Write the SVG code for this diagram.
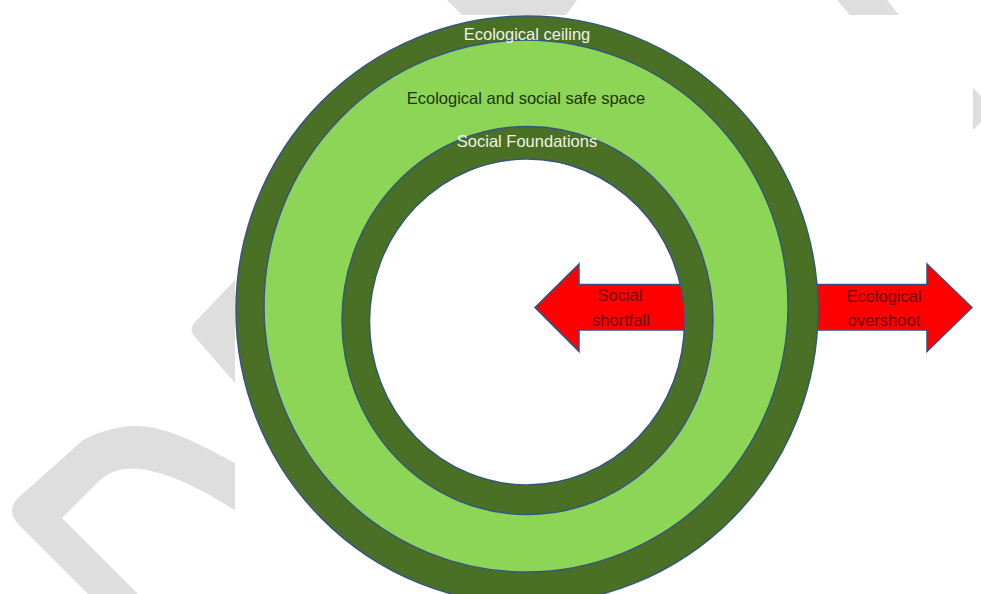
<svg xmlns="http://www.w3.org/2000/svg" width="981" height="594" viewBox="0 0 981 594">
<style>
.wm{fill:#dedede;stroke:none}
.dark{fill:#4a7025;stroke:#35577f;stroke-width:1.5}
.light{fill:#8dd557;stroke:#35577f;stroke-width:1.5}
.arrow{fill:#ff0000;stroke:#3a4f86;stroke-width:1.5}
text{font-family:"Liberation Sans",Arial,sans-serif;font-size:16.5px;text-anchor:middle}
.wt{fill:#eef3e6}
.dt{fill:#1c3312}
.rt{fill:#700000}
</style>
<rect width="981" height="594" fill="#ffffff"/>
<g id="watermark">
<path class="wm" d="M235,280 L195,322 Q188,330 195,337 L235,383 Z"/>
<path class="wm" d="M235,463 C205,447 165,424 133,426 C115,427 98,432 83,440 L18,498 Q6,510 18,524 L88,594 L138,594 L62,518 L100,480 C112,470 125,467 140,469 C175,474 205,492 235,510 Z"/>
<polygon class="wm" points="973,88 981,96 981,122 973,130"/>
<polygon class="wm" points="837,0 887,0 899,15 850,15"/>
<polygon class="wm" points="447,0 577,0 566,15 462,15"/>
</g>
<rect x="235" y="15" width="738" height="579" fill="#ffffff"/>
<g id="connectors">
<g id="arrow-overshoot">
<polygon class="arrow" points="800,284.5 927,284.5 927,264 972,307.5 927,351.5 927,330 800,330"/>
</g>
</g>
<g id="ecological-ceiling">
<ellipse class="dark" cx="527" cy="310" rx="291" ry="294"/>
</g>
<g id="safe-space">
<ellipse class="light" cx="526" cy="306" rx="262" ry="266"/>
</g>
<g id="inner-space">
<ellipse cx="527" cy="322" rx="157.5" ry="163" fill="#ffffff"/>
</g>
<g id="arrow-shortfall">
<polygon class="arrow" points="535,307.5 579,264 579,284.5 700,284.5 700,330 579,330 579,351.5"/>
</g>
<g id="social-foundations">
<path class="dark" fill-rule="evenodd" d="M342,320.5 a185.5,194 0 1,0 371,0 a185.5,194 0 1,0 -371,0 Z M369.5,322 a157.5,163 0 1,0 315,0 a157.5,163 0 1,0 -315,0 Z"/>
</g>
<g id="labels">
<text class="wt" x="527" y="40">Ecological ceiling</text>
<text class="dt" x="526" y="104">Ecological and social safe space</text>
<text class="wt" x="527" y="146.5">Social Foundations</text>
<text class="rt" x="620" y="301">Social</text>
<text class="rt" x="621" y="326">shortfall</text>
<text class="rt" x="884" y="302">Ecological</text>
<text class="rt" x="884" y="326">overshoot</text>
</g>
</svg>
